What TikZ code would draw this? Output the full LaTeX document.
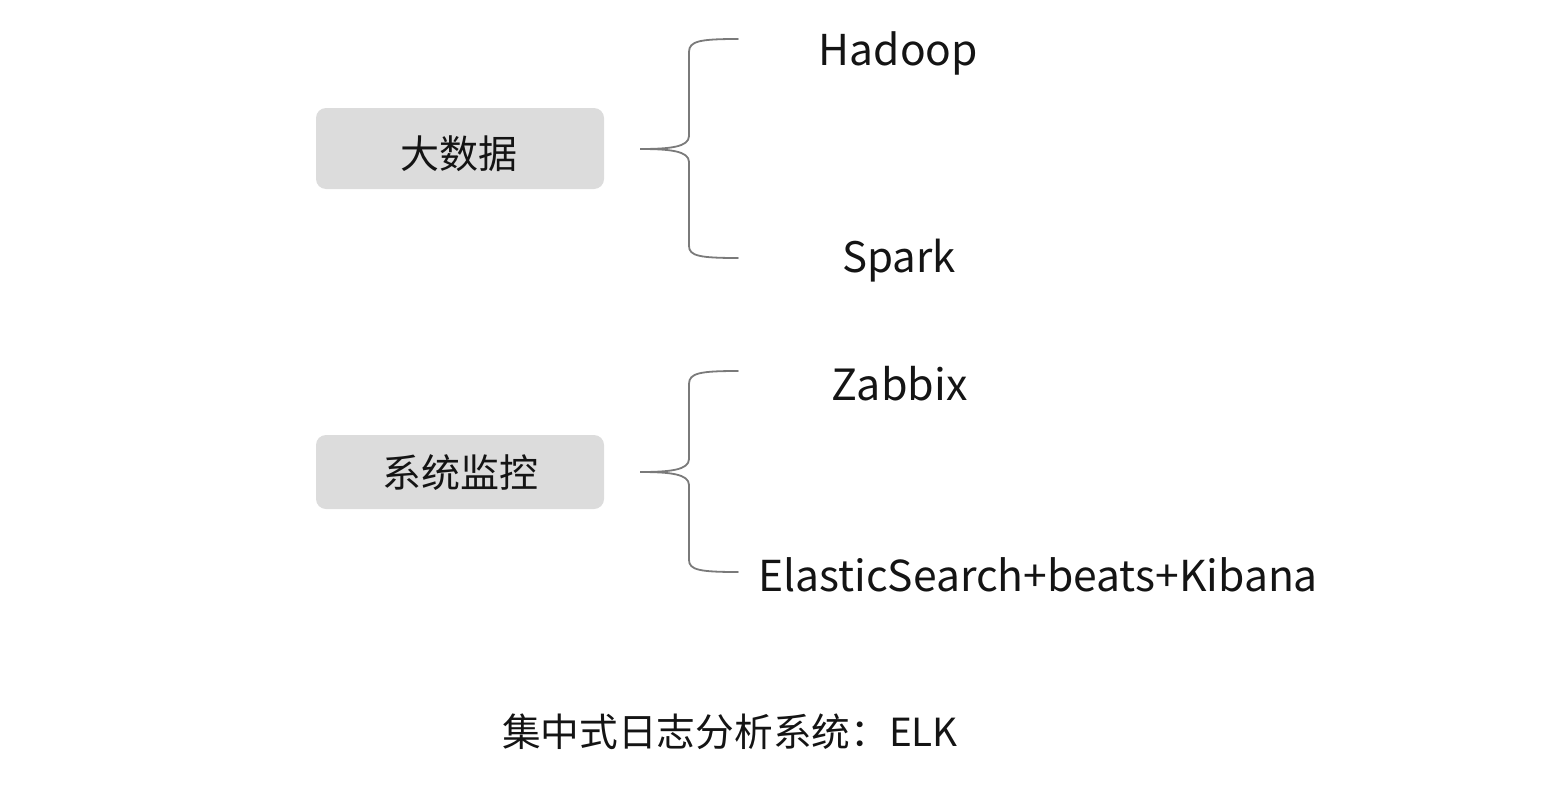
\documentclass[tikz,border=0pt]{standalone}
\usepackage{fontspec}
\setmainfont{Noto Sans CJK SC}
\begin{document}
\begin{tikzpicture}[x=1pt,y=-1pt,
  item/.style={anchor=base,inner sep=0pt,text=textblack},
  catlabel/.style={inner sep=0pt,text=textblack,font=\fontsize{39}{39}\selectfont},
  bracel/.style={draw=bracegray,line width=1.8pt,line cap=round}]
\definecolor{boxgray}{HTML}{DCDCDC}
\definecolor{bracegray}{HTML}{7A7A7A}
\definecolor{textblack}{HTML}{141414}
\useasboundingbox (0,0) rectangle (1562,792);
% boxes
\path[fill=boxgray,rounded corners=10pt] (316,108) rectangle (604,189);
\node[catlabel] (bd) at (459,154) {大数据};
\path[fill=boxgray,rounded corners=10pt] (316,435) rectangle (604,509);
\node[catlabel] (sm) at (460,473) {系统监控};
% items
\node[item,font=\fontsize{42.5}{42.5}\selectfont] (hadoop) at (898.5,65) {Hadoop};
\node[item,font=\fontsize{42}{42}\selectfont] (spark) at (899,272) {Spark};
\node[item,font=\fontsize{43}{43}\selectfont] (zabbix) at (899.5,400) {Zabbix};
\node[item,font=\fontsize{42.6}{42.6}\selectfont] (elk) at (1038,591) {ElasticSearch+beats+Kibana};
\node[item,font=\fontsize{38.7}{38.7}\selectfont] (cap) at (730,746) {集中式日志分析系统：ELK};
% brace 1
\coordinate (b1tip) at (640,149);
\coordinate (b1top) at (738,39);
\coordinate (b1bot) at (738,258);
\draw[bracel] (b1top) .. controls (700,39) and (689,41) .. (689,52)
  -- (689,136) .. controls (689,147) and (670,149) .. (b1tip)
  .. controls (670,149) and (689,151) .. (689,162)
  -- (689,246) .. controls (689,256) and (700,258) .. (b1bot);
% brace 2
\coordinate (b2tip) at (640,472);
\coordinate (b2top) at (738,371);
\coordinate (b2bot) at (738,572);
\draw[bracel] (b2top) .. controls (700,371) and (689,373) .. (689,384)
  -- (689,459) .. controls (689,470) and (670,472) .. (b2tip)
  .. controls (670,472) and (689,474) .. (689,485)
  -- (689,560) .. controls (689,570) and (700,572) .. (b2bot);
\end{tikzpicture}
\end{document}
